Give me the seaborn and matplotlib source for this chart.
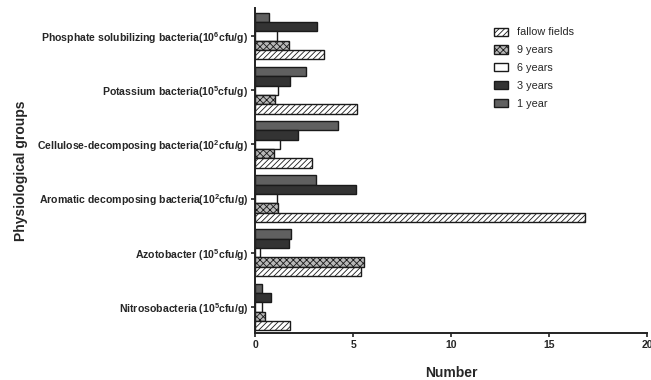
import matplotlib
matplotlib.use("Agg")
import matplotlib.pyplot as plt
import seaborn as sns
import pandas as pd
from matplotlib.patches import Patch

groups = [
    "Phosphate solubilizing bacteria(10$^{\\mathbf{6}}$cfu/g)",
    "Potassium bacteria(10$^{\\mathbf{5}}$cfu/g)",
    "Cellulose-decomposing bacteria(10$^{\\mathbf{2}}$cfu/g)",
    "Aromatic decomposing bacteria(10$^{\\mathbf{2}}$cfu/g)",
    "Azotobacter (10$^{\\mathbf{5}}$cfu/g)",
    "Nitrosobacteria (10$^{\\mathbf{5}}$cfu/g)",
]
series = ["1 year", "3 years", "6 years", "9 years", "fallow fields"]
one_year = [0.73, 2.57, 4.22, 3.10, 1.84, 0.37]
three_years = [3.13, 1.80, 2.18, 5.15, 1.73, 0.80]
six_years = [1.10, 1.14, 1.28, 1.10, 0.26, 0.36]
nine_years = [1.75, 0.99, 0.95, 1.17, 5.54, 0.48]
fallow = [3.50, 5.20, 2.89, 16.82, 5.41, 1.79]
xticks = [0, 5, 10, 15, 20]

values = [one_year, three_years, six_years, nine_years, fallow]
rows = []
for s, vals in zip(series, values):
    for g, v in zip(groups, vals):
        rows.append({"group": g, "series": s, "value": v})
df = pd.DataFrame(rows)

sns.set_style("ticks")
plt.rcParams["font.family"] = ["Liberation Sans", "DejaVu Sans"]
plt.rcParams["mathtext.fontset"] = "custom"
plt.rcParams["mathtext.bf"] = "Liberation Sans:bold"
plt.rcParams["mathtext.rm"] = "Liberation Sans"
plt.rcParams["hatch.linewidth"] = 0.6

styles = {
    "1 year": dict(fc="#606060", hatch=None),
    "3 years": dict(fc="#333333", hatch=None),
    "6 years": dict(fc="white", hatch=None),
    "9 years": dict(fc="#b8b8b8", hatch="xxxxx"),
    "fallow fields": dict(fc="white", hatch="//////"),
}
palette = {k: v["fc"] for k, v in styles.items()}

fig = plt.figure(figsize=(6.51, 3.8), dpi=100)
ax = fig.add_axes([0.392, 0.124, 0.602, 0.855])

sns.barplot(data=df, x="value", y="group", hue="series", hue_order=series,
            order=groups, palette=palette, orient="h", width=0.86,
            edgecolor="#1a1a1a", linewidth=1.0, errorbar=None, legend=False,
            saturation=1, ax=ax)

for s, cont in zip(series, ax.containers):
    for bar in cont:
        if styles[s]["hatch"]:
            bar.set_hatch(styles[s]["hatch"])

ax.set_xlim(0, 20)
ax.set_ylim(5.48, -0.52)
ax.set_xticks(xticks)
ax.set_xticklabels([str(t) for t in xticks], fontsize=7.5, fontweight="bold")
ax.set_yticks(range(len(groups)))
ax.set_yticklabels(groups, fontsize=7.6, fontweight="bold")
ax.tick_params(axis="both", length=3, width=1.2, color="#222222", pad=2)
for sp in ["top", "right"]:
    ax.spines[sp].set_visible(False)
for sp in ["left", "bottom"]:
    ax.spines[sp].set_linewidth(1.4)
    ax.spines[sp].set_color("#222222")

ax.set_xlabel("Number", fontsize=10, fontweight="bold", labelpad=12)
ax.set_ylabel("")
fig.text(0.032, 0.55, "Physiological groups", rotation=90, fontsize=10,
         fontweight="bold", ha="center", va="center")

handles = []
for s in reversed(series):
    st = styles[s]
    handles.append(Patch(facecolor=st["fc"], edgecolor="#1a1a1a",
                         hatch=st["hatch"], linewidth=1.0, label=s))
leg = ax.legend(handles=handles, loc="upper left", bbox_to_anchor=(0.585, 0.97),
                frameon=False, fontsize=7.8, handlelength=1.25, handleheight=0.8,
                labelspacing=0.72, handletextpad=0.9)

fig.savefig("out.png", dpi=100)
